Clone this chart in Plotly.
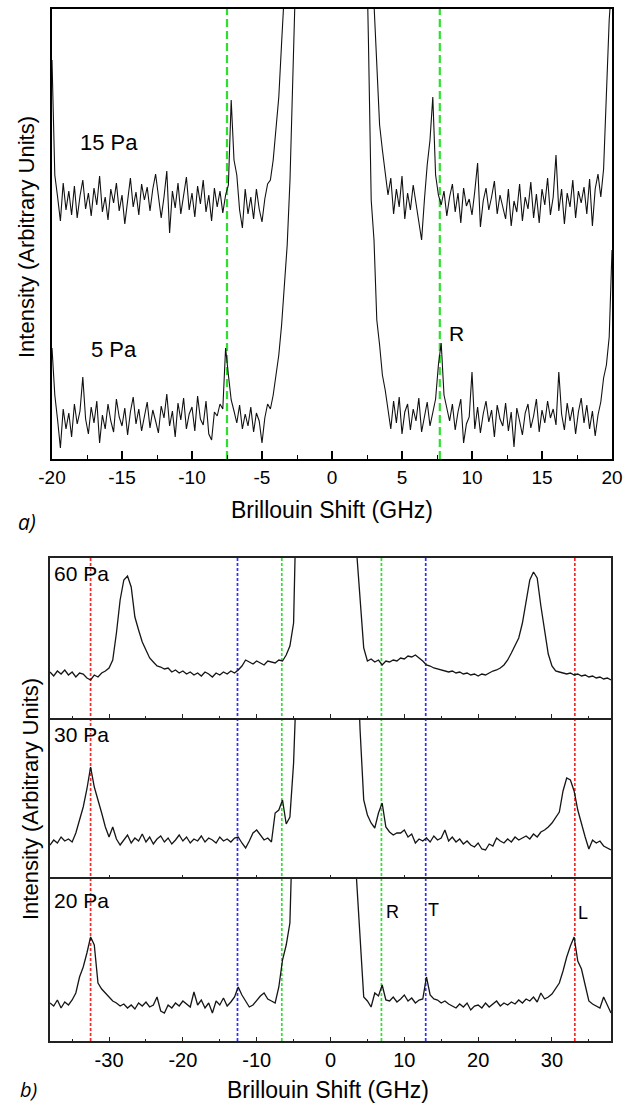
import numpy as np
import plotly.graph_objects as go

W, H = 633, 1104
FONT = "Liberation Sans, Arial, sans-serif"

# ---------------- data : panel a (x step 0.2 GHz) ----------------
shift_a = np.round(np.arange(-20, 20.0001, 0.2), 2)

int_15pa = [
    399, 284, 262, 238, 276, 249, 268, 244, 273, 241,
    263, 279, 250, 266, 243, 271, 254, 283, 247, 262,
    239, 270, 256, 276, 248, 264, 235, 258, 281, 252,
    267, 244, 275, 259, 272, 248, 270, 285, 262, 241,
    262, 288, 226, 268, 251, 276, 245, 263, 282, 249,
    266, 242, 273, 255, 279, 247, 264, 238, 271, 252,
    268, 246, 264, 274, 359, 299, 284, 249, 231, 270,
    245, 262, 240, 270, 250, 237, 260, 275, 279, 299,
    329, 362, 416, 455, 520, 600, 700, 800, 900, 1000,
    1100, 1200, 1300, 1400, 1500, 1600, 1700, 1800, 1900, 1950,
    2000,
    1900, 1800, 1700, 1600, 1500, 1400, 1300, 1200, 1100, 1000,
    900, 800, 700, 560, 455, 394, 334, 309, 284,
    264, 281, 245, 270, 252, 283, 240, 266, 249, 274,
    255, 238, 219, 259, 294, 319, 362, 284, 264, 254,
    268, 243, 262, 275, 247, 266, 236, 271, 253, 260,
    244, 268, 296, 232, 258, 271, 249, 262, 278, 245,
    264, 252, 240, 270, 233, 258, 247, 275, 238, 262,
    250, 277, 241, 265, 236, 270, 254, 281, 244, 262,
    304, 248, 270, 235, 266, 252, 279, 241, 268, 256,
    272, 245, 280, 233, 270, 285, 262, 290, 369, 439,
    480,
]

int_5pa = [
    111, 64, 39, 11, 50, 30, 46, 22, 55, 35,
    48, 82, 40, 25, 52, 36, 58, 16, 44, 30,
    55, 38, 27, 60, 42, 33, 51, 24, 47, 62,
    35, 50, 28, 44, 57, 31, 49, 38, 26, 53,
    41, 65, 33, 48, 22, 56, 39, 61, 30, 45,
    52, 28, 63, 40, 34, 58, 25, 19, 47, 43,
    55, 50, 111, 84, 59, 48, 36, 54, 30, 45,
    33, 52, 27, 46, 38, 16, 41, 55, 50, 64,
    84, 104, 134, 174, 214, 279, 399, 520, 600, 700,
    800, 900, 1000, 1100, 1200, 1300, 1400, 1500, 1600, 1700,
    1800,
    1700, 1600, 1500, 1400, 1300, 1200, 1100, 1000, 900, 800,
    700, 560, 420, 259, 219, 139, 114, 84, 69,
    49, 30, 58, 36, 62, 25, 47, 55, 29, 50,
    38, 61, 27, 44, 57, 33, 48, 60, 94, 116,
    64, 50, 38, 55, 29, 47, 60, 16, 35, 42,
    87, 30, 52, 26, 45, 58, 37, 49, 22, 54,
    40, 33, 56, 28, 47, 12, 51, 38, 24, 46,
    55, 31, 43, 60, 27, 49, 36, 58, 41, 50,
    34, 87, 45, 29, 56, 38, 52, 25, 47, 61,
    36, 54, 30, 48, 23, 44, 57, 81, 94, 122,
    209,
]

# ---------------- data : panel b (x step 0.5 GHz) ----------------
shift_b = np.round(np.arange(-38, 38.0001, 0.5), 2)

int_60pa = [
    46, 42, 47, 44, 48, 43, 46, 41, 45, 44,
    40, 38, 43, 41, 45, 47, 50, 58, 85, 118,
    138, 142, 131, 101, 88, 76, 68, 60, 56, 52,
    51, 49, 50, 46, 48, 45, 47, 44, 46, 43,
    45, 42, 46, 44, 41, 45, 43, 46, 44, 47,
    45, 48, 52, 58, 56, 54, 57, 55, 53, 57,
    56, 55, 58, 57, 63, 72, 95, 170, 300, 500,
    700, 900, 1100, 1300, 1500, 1600, 1500, 1300, 1100, 900,
    700, 500, 300, 170, 115, 70, 57, 59, 56, 58,
    53, 57, 56, 58, 57, 60, 59, 62, 61, 63,
    60, 57, 53, 52, 50, 49, 48, 47, 46, 47,
    45, 46, 44, 45, 43, 44, 42, 44, 43, 45,
    47, 48, 50, 53, 58, 65, 72, 80, 95, 118,
    138, 146, 140, 112, 86, 64, 52, 47, 46, 45,
    44, 45, 43, 44, 42, 43, 41, 42, 40, 41,
    39, 40, 38,
]

int_30pa = [
    34, 39, 36, 42, 38, 40, 37, 46, 59, 72,
    90, 112, 92, 80, 66, 52, 42, 52, 40, 34,
    39, 44, 36, 41, 38, 45, 37, 42, 35, 40,
    43, 37, 41, 35, 39, 44, 38, 42, 36, 40,
    38, 43, 37, 41, 39, 36, 42, 38, 40, 37,
    41, 42, 36, 31, 38, 46, 49, 44, 39, 41,
    37, 66, 69, 79, 55, 62, 116, 220, 400, 600,
    800, 1000, 1200, 1400, 1500, 1600, 1500, 1400, 1200, 1000,
    800, 600, 400, 250, 150, 79, 64, 56, 51, 66,
    76, 52, 47, 44, 46, 46, 49, 42, 45, 36,
    40, 38, 41, 37, 43, 39, 41, 49, 38, 42,
    37, 40, 35, 38, 34, 32, 36, 30, 29, 35,
    33, 41, 38, 36, 40, 37, 42, 39, 41, 43,
    40, 45, 42, 47, 49, 52, 56, 62, 67, 88,
    101, 99, 88, 69, 55, 42, 30, 39, 36, 38,
    33, 31, 29,
]

int_20pa = [
    38, 35, 41, 33, 39, 36, 41, 48, 64, 74,
    88, 104, 96, 58, 52, 48, 44, 40, 38, 35,
    37, 33, 36, 32, 38, 35, 39, 34, 36, 44,
    30, 28, 36, 33, 38, 35, 40, 37, 34, 49,
    36, 41, 33, 38, 28, 40, 36, 43, 35, 39,
    44, 54, 46, 40, 34, 36, 41, 45, 48, 42,
    40, 38, 54, 81, 96, 118, 250, 450, 650, 850,
    1000, 1200, 1400, 1500, 1600, 1600, 1500, 1400, 1200, 1000,
    800, 600, 350, 165, 100, 44, 40, 34, 48, 45,
    56, 41, 40, 44, 39, 42, 46, 40, 43, 38,
    41, 42, 64, 46, 42, 41, 38, 40, 37, 35,
    33, 37, 34, 38, 31, 35, 36, 33, 38, 34,
    37, 40, 35, 38, 36, 39, 37, 41, 38, 42,
    40, 44, 39, 48, 42, 44, 47, 52, 58, 70,
    84, 95, 104, 80, 72, 56, 40, 37, 35, 33,
    44, 36, 28,
]

assert len(int_15pa) == len(shift_a) and len(int_5pa) == len(shift_a)
assert len(int_60pa) == len(shift_b) and len(int_30pa) == len(shift_b) and len(int_20pa) == len(shift_b)

# marker line positions (GHz)
rayleigh_a = [-7.5, 7.7]
lines_b = {"#f22a2a": [-32.5, 33.1], "#2e2eff": [-12.6, 12.9], "#2ee02e": [-6.6, 6.9]}

ticks_a = [-20, -15, -10, -5, 0, 5, 10, 15, 20]
ticklabels_a = ["-20", "-15", "-10", "-5", "0", "5", "10", "15", "20"]
ticks_b = [-30, -20, -10, 0, 10, 20, 30]
ticklabels_b = ["-30", "-20", "-10", "0", "10", "20", "30"]


# ---------------- layout helpers ----------------
def fx(p):
    return p / W


def fy(p):
    return 1 - p / H


A_X = [fx(52), fx(612)]
A_Y = [fy(459), fy(9)]
B_X = [fx(50), fx(611)]
B_ROWS = [(558, 718), (718, 879), (879, 1041)]

fig = go.Figure()
blk = dict(color="#111111", width=1.1)
fig.add_trace(go.Scatter(x=shift_a, y=int_15pa, mode="lines", line=blk, xaxis="x", yaxis="y"))
fig.add_trace(go.Scatter(x=shift_a, y=int_5pa, mode="lines", line=blk, xaxis="x", yaxis="y"))
blkb = dict(color="#151515", width=1.3)
for k, series in enumerate([int_60pa, int_30pa, int_20pa]):
    fig.add_trace(go.Scatter(x=shift_b, y=series, mode="lines", line=blkb,
                             xaxis=f"x{k + 2}", yaxis=f"y{k + 2}"))

layout = dict(
    template="none",
    width=W, height=H, autosize=False, margin=dict(l=0, r=0, t=0, b=0, pad=0, autoexpand=False),
    paper_bgcolor="white", plot_bgcolor="white", showlegend=False,
    font=dict(family=FONT, color="black"),
)

layout["xaxis"] = dict(
    domain=A_X, anchor="y", range=[-20, 20], tickmode="array", tickvals=ticks_a, ticktext=ticklabels_a,
    ticks="inside", ticklen=8, tickwidth=1.5, tickcolor="black", automargin=False,
    minor=dict(tickmode="linear", tick0=0, dtick=2.5, ticks="inside", ticklen=4, tickwidth=1.3, tickcolor="black"),
    showline=True, linewidth=2, linecolor="black", mirror=True, showgrid=False, zeroline=False,
    tickfont=dict(size=19, family=FONT, color="black"),
)
layout["yaxis"] = dict(
    domain=A_Y, anchor="x", range=[0, 450], showticklabels=False, ticks="", automargin=False,
    showline=True, linewidth=2, linecolor="black", mirror=True, showgrid=False, zeroline=False,
)

for k, (top, bot) in enumerate(B_ROWS):
    n = k + 2
    layout[f"xaxis{n}"] = dict(
        domain=B_X, anchor=f"y{n}", range=[-38, 38], tickmode="array", tickvals=ticks_b,
        ticktext=ticklabels_b, showticklabels=(k == 2), automargin=False,
        ticks="inside", ticklen=4, tickwidth=1.3, tickcolor="#222",
        minor=dict(tickmode="linear", tick0=0, dtick=5, ticks="inside", ticklen=2, tickwidth=1.2, tickcolor="#222"),
        showline=(k != 1), linewidth=1.5, linecolor="#222", mirror=True, showgrid=False, zeroline=False,
        tickfont=dict(size=20, family=FONT, color="black"),
    )
    layout[f"yaxis{n}"] = dict(
        domain=[fy(bot), fy(top)], anchor=f"x{n}", range=[0, bot - top], showticklabels=False, ticks="",
        automargin=False,
        showline=True, linewidth=1.5, linecolor="#222", mirror=True, showgrid=False, zeroline=False,
    )

shapes = []
for v in rayleigh_a:
    shapes.append(dict(type="line", xref="x", yref="y domain", x0=v, x1=v, y0=0, y1=1, layer="below",
                       line=dict(color="#2ee02e", width=2.2, dash="8px,4px")))
for col, vals in lines_b.items():
    for v in vals:
        shapes.append(dict(type="line", xref="x2", yref="paper", x0=v, x1=v,
                           y0=fy(B_ROWS[2][1]), y1=fy(B_ROWS[0][0]), layer="below",
                           line=dict(color=col, width=1.7, dash="3px,2px")))
layout["shapes"] = shapes


def txt(text, x, y, xref, yref, size, **kw):
    d = dict(text=text, x=x, y=y, xref=xref, yref=yref, showarrow=False,
             xanchor="center", yanchor="middle", font=dict(size=size, family=kw.pop("family", FONT), color="black"))
    d.update(kw)
    return d


ann = [
    txt("15 Pa", -15.9, 316, "x", "y", 22),
    txt("5 Pa", -15.6, 110, "x", "y", 22),
    txt("R", 8.9, 126, "x", "y", 21),
    txt("60 Pa", -33.7, 145, "x2", "y2", 21),
    txt("30 Pa", -33.7, 145, "x3", "y3", 21),
    txt("20 Pa", -33.7, 141, "x4", "y4", 21),
    txt("R", 8.4, 129, "x4", "y4", 18),
    txt("T", 14.0, 131, "x4", "y4", 18),
    txt("L", 34.2, 128, "x4", "y4", 18),
    txt("Brillouin Shift (GHz)", fx(332), fy(510), "paper", "paper", 23),
    txt("Brillouin Shift (GHz)", fx(328), fy(1090), "paper", "paper", 23),
    txt("Intensity (Arbitrary Units)", fx(26), fy(237), "paper", "paper", 22, textangle=-90),
    txt("Intensity (Arbitrary Units)", fx(30), fy(799), "paper", "paper", 22, textangle=-90),
    txt("<i>a)</i>", fx(27), fy(522), "paper", "paper", 21, family="Open Sans, sans-serif"),
    txt("<i>b)</i>", fx(28), fy(1089), "paper", "paper", 20, family="Open Sans, sans-serif"),
]
layout["annotations"] = ann

fig.update_layout(**layout)
fig.write_html(
    "out.html",
    config={"displayModeBar": False},
    post_script="document.body.style.margin='0';document.body.style.padding='0';"
                "document.documentElement.style.overflow='hidden';",
)
